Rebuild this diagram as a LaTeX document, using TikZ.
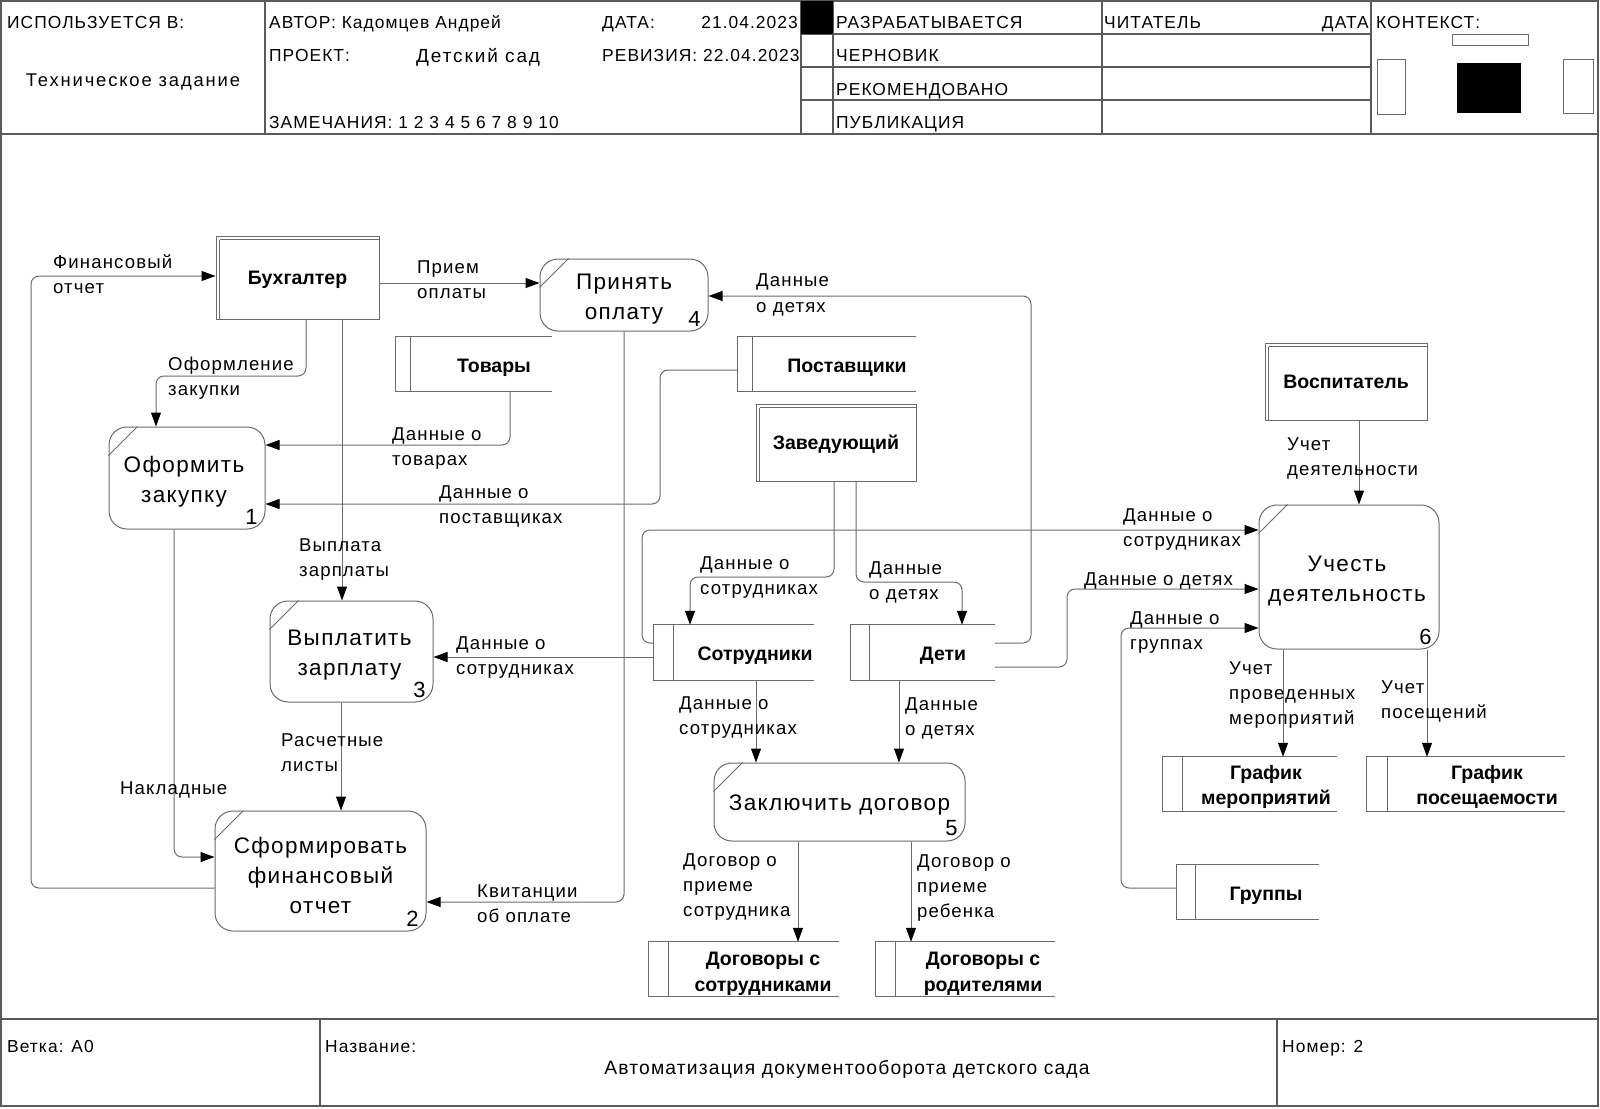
\documentclass[tikz,border=0pt]{standalone}
\usepackage{fontspec}
\setmainfont{Liberation Sans}
\newfontfamily\hdrfont[LetterSpace=10]{Liberation Sans}
\newfontfamily\lblfont[LetterSpace=6]{Liberation Sans}
\usetikzlibrary{arrows.meta,calc}
\definecolor{linegray}{HTML}{6A6A6A}
\definecolor{framegray}{HTML}{5A5A5A}

\begin{document}
\begin{tikzpicture}[x=1pt,y=-1pt,
  frame/.style={draw=framegray, line width=1.2pt},
  box/.style={draw=linegray, line width=1pt},
  proc/.style={draw=linegray, line width=1pt, rounded corners=18pt, inner sep=0pt},
  ptxt/.style={inner sep=0pt, align=center, font=\lblfont\fontsize{22.5}{30}\selectfont},
  ent/.style={draw=linegray, line width=1pt, inner sep=0pt, text height=14pt, text depth=0pt,
    font=\bfseries\fontsize{19.5}{25}\selectfont},
  store/.style={inner sep=0pt, minimum height=54},
  stxt/.style={inner sep=0pt, align=center, font=\bfseries\fontsize{19.5}{25.5}\selectfont},
  numtxt/.style={inner sep=0pt, font=\lblfont\fontsize{22}{26}\selectfont},
  flow/.style={draw=linegray, line width=1pt, rounded corners=8pt,
    -{Triangle[length=14pt,width=10pt,color=black]}},
  lbl/.style={anchor=north west, inner sep=0pt, align=left,
    font=\lblfont\fontsize{18.6}{25}\selectfont, execute at begin node=\strut},
  hdr/.style={anchor=base west, inner sep=0pt, font=\lblfont\fontsize{17.4}{20}\selectfont},
  big/.style={anchor=base west, inner sep=0pt, font=\hdrfont\fontsize{19}{24}\selectfont},
]
\useasboundingbox (0,0) rectangle (1600,1108);

% ---------- sheet frame ----------
\draw[frame] (1,1) rectangle (1598,1106);
\draw[frame] (1,134) -- (1598,134);
\draw[frame] (265,1) -- (265,134);
\draw[frame] (801,1) -- (801,134);
\draw[frame] (833,1) -- (833,134);
\draw[frame] (1102,1) -- (1102,134);
\draw[frame] (1371,1) -- (1371,134);
\draw[frame] (801,34) -- (1371,34);
\draw[frame] (801,67) -- (1371,67);
\draw[frame] (801,100) -- (1371,100);
\fill[black] (801,1) rectangle (833,34);

% context thumbnail
\draw[box] (1452,35) rectangle (1528,46);
\draw[box] (1377,60) rectangle (1405,114);
\fill[black] (1457,63) rectangle (1521,113);
\draw[box] (1563,60) rectangle (1593,113);

% footer
\draw[frame] (1,1019) -- (1598,1019);
\draw[frame] (320,1019) -- (320,1106);
\draw[frame] (1277,1019) -- (1277,1106);

% ---------- header texts ----------
\node[hdr] (h-used) at (7,29) {ИСПОЛЬЗУЕТСЯ В:};
\node[big, anchor=base, font=\hdrfont\fontsize{18.4}{24}\selectfont] (h-doc) at (133,86) {Техническое задание};
\node[hdr] (h-author) at (269,29) {АВТОР: Кадомцев Андрей};
\node[hdr] (h-date) at (602,29) {ДАТА:};
\node[hdr, anchor=base east] (h-dateval) at (798,29) {21.04.2023};
\node[hdr] (h-proj) at (269,62) {ПРОЕКТ:};
\node[big] (h-projval) at (416,63) {Детский сад};
\node[hdr] (h-rev) at (602,62) {РЕВИЗИЯ: 22.04.2023};
\node[hdr] (h-notes) at (269,128) {ЗАМЕЧАНИЯ: 1 2 3 4 5 6 7 8 9 10};
\node[hdr] (h-s1) at (836,29) {РАЗРАБАТЫВАЕТСЯ};
\node[hdr] (h-s2) at (836,62) {ЧЕРНОВИК};
\node[hdr] (h-s3) at (836,95) {РЕКОМЕНДОВАНО};
\node[hdr] (h-s4) at (836,128) {ПУБЛИКАЦИЯ};
\node[hdr] (h-reader) at (1104,29) {ЧИТАТЕЛЬ};
\node[hdr, anchor=base east] (h-rdate) at (1369,29) {ДАТА};
\node[hdr] (h-ctx) at (1376,29) {КОНТЕКСТ:};

% ---------- footer texts ----------
\node[hdr] (f-branch) at (7,1052) {Ветка: А0};
\node[hdr] (f-name) at (325,1052) {Название:};
\node[anchor=base, inner sep=0pt, font=\lblfont\fontsize{19.3}{25}\selectfont] (f-title) at (847,1074) {Автоматизация документооборота детского сада};
\node[hdr] (f-num) at (1282,1052) {Номер: 2};

% ---------- external entities ----------
\node[ent, minimum width=163, minimum height=83] (acct) at (297.5,277.5) {Бухгалтер};
\node[ent, minimum width=160, minimum height=77] (head) at (836,442.5) {Заведующий};
\node[ent, minimum width=162, minimum height=77] (vosp) at (1346,381.5) {Воспитатель};
\foreach \e in {acct,head,vosp}{
  \draw[box] ([xshift=4,yshift=-4]\e.north west) -- ([yshift=-4]\e.north east);
  \draw[box] ([xshift=4,yshift=-4]\e.north west) -- ([xshift=4]\e.south west);
}

% ---------- processes ----------
\node[proc, minimum width=156, minimum height=102] (p1) at (187,478) {};
\node[proc, minimum width=211, minimum height=120] (p2) at (320.5,871) {};
\node[proc, minimum width=163, minimum height=101] (p3) at (351.5,651.5) {};
\node[proc, minimum width=168, minimum height=72] (p4) at (624,295) {};
\node[proc, minimum width=251, minimum height=78] (p5) at (839.5,802) {};
\node[proc, minimum width=180, minimum height=144] (p6) at (1349,577) {};
\node[ptxt] (p1-t) at ([xshift=-3,yshift=-4]p1.center) {Оформить\\закупку};
\node[ptxt] (p2-t) at ([yshift=-4]p2.center) {Сформировать\\финансовый\\отчет};
\node[ptxt] (p3-t) at ([xshift=-2,yshift=-4]p3.center) {Выплатить\\зарплату};
\node[ptxt] (p4-t) at ([yshift=-4]p4.center) {Принять\\оплату};
\node[ptxt] (p5-t) at ([yshift=-3]p5.center) {Заключить договор};
\node[ptxt] (p6-t) at ([xshift=-2,yshift=-4]p6.center) {Учесть\\деятельность};
\foreach \p/\n in {p1/1,p2/2,p3/3,p4/4,p5/5,p6/6}{
  \draw[box] ([xshift=29]\p.north west) -- ([yshift=-29]\p.north west);
  \node[numtxt] (\p-num) at ([xshift=-14,yshift=13]\p.south east) {\n};
}

% ---------- data stores ----------
\node[store, minimum width=156] (goods) at (474,364) {};
\node[store, minimum width=178] (sup) at (827,364) {};
\node[store, minimum width=160, minimum height=55] (staff) at (734,652.5) {};
\node[store, minimum width=144, minimum height=55] (kids) at (923,652.5) {};
\node[store, minimum width=142] (groups) at (1248,892) {};
\node[store, minimum width=174] (gm) at (1250,784) {};
\node[store, minimum width=198] (gp) at (1466,784) {};
\node[store, minimum width=190] (ds) at (744,969) {};
\node[store, minimum width=179] (dp) at (965.5,969) {};
\foreach \s/\d in {goods/15,sup/15,staff/20,kids/19,groups/19,gm/20,gp/21,ds/20,dp/20}{
  \draw[box] (\s.north east) -- (\s.north west) -- (\s.south west) -- (\s.south east);
  \draw[box] ([xshift=\d]\s.north west) -- ([xshift=\d]\s.south west);
}
\node[stxt] (goods-t) at (494,368) {Товары};
\node[stxt] (sup-t) at (847,368) {Поставщики};
\node[stxt] (staff-t) at (755,656) {Сотрудники};
\node[stxt] (kids-t) at (943,656) {Дети};
\node[stxt] (groups-t) at (1266,896) {Группы};
\node[stxt] (gm-t) at (1266,787) {График\\мероприятий};
\node[stxt] (gp-t) at (1487,787) {График\\посещаемости};
\node[stxt] (ds-t) at (763,974) {Договоры с\\сотрудниками};
\node[stxt] (dp-t) at (983,974) {Договоры с\\родителями};

% ---------- data flows ----------
\draw[flow] (p2.west |- 0,888) -| (31,276) -- (acct.west |- 0,276);
\draw[flow] (acct.east |- 0,283) -- (p4.west |- 0,283);
\draw[flow] (acct.south -| 306,0) |- (156,376) -- (p1.north -| 156,0);
\draw[flow] (acct.south -| 342,0) -- (p3.north -| 342,0);
\draw[flow] (goods.south -| 510,0) |- (p1.east |- 0,445);
\draw[flow] (sup.west |- 0,370) -| (660,504) -- (p1.east |- 0,504);
\draw[flow] (kids.east |- 0,643) -| (1031,296) -- (p4.east |- 0,296);
\draw[flow] (p4.south -| 624,0) |- (p2.east |- 0,902);
\draw[flow] (p1.south -| 174,0) |- (p2.west |- 0,857);
\draw[flow] (p3.south -| 341,0) -- (p2.north -| 341,0);
\draw[flow] (staff.west |- 0,657) -- (p3.east |- 0,657);
\draw[flow] (head.south -| 834,0) |- (690,577) -- (staff.north -| 690,0);
\draw[flow] (head.south -| 856,0) |- (962,582) -- (kids.north -| 962,0);
\draw[flow] (staff.west |- 0,643) -| (642,530) -- (p6.west |- 0,530);
\draw[flow] (kids.east |- 0,667) -| (1067,589) -- (p6.west |- 0,589);
\draw[flow] (groups.west |- 0,888) -| (1121,628) -- (p6.west |- 0,628);
\draw[flow] (vosp.south -| 1359,0) -- (p6.north -| 1359,0);
\draw[flow] (p6.south -| 1283,0) -- (gm.north -| 1283,0);
\draw[flow] (p6.south -| 1427,0) -- (gp.north -| 1427,0);
\draw[flow] (staff.south -| 756,0) -- (p5.north -| 756,0);
\draw[flow] (kids.south -| 899,0) -- (p5.north -| 899,0);
\draw[flow] (p5.south -| 798,0) -- (ds.north -| 798,0);
\draw[flow] (p5.south -| 911,0) -- (dp.north -| 911,0);

% ---------- flow labels ----------
\node[lbl] (l-fin) at (53,254) {Финансовый\\отчет};
\node[lbl] (l-pay) at (417,261) {Прием\\оплаты};
\node[lbl] (l-buy) at (168,357) {Оформление\\закупки};
\node[lbl] (l-goods) at (392,427) {Данные о\\товарах};
\node[lbl] (l-sup) at (439,485) {Данные о\\поставщиках};
\node[lbl] (l-kids1) at (756,274) {Данные\\о детях};
\node[lbl] (l-sal) at (299,538) {Выплата\\зарплаты};
\node[lbl] (l-staff1) at (456,636) {Данные о\\сотрудниках};
\node[lbl] (l-sheets) at (281,733) {Расчетные\\листы};
\node[lbl] (l-inv) at (120,777) {Накладные};
\node[lbl] (l-rcpt) at (477,884) {Квитанции\\об оплате};
\node[lbl] (l-staff2) at (700,556) {Данные о\\сотрудниках};
\node[lbl] (l-kids2) at (869,561) {Данные\\о детях};
\node[lbl] (l-staff3) at (1123,508) {Данные о\\сотрудниках};
\node[lbl] (l-kids3) at (1084,568) {Данные о детях};
\node[lbl] (l-grp) at (1130,611) {Данные о\\группах};
\node[lbl] (l-act) at (1287,437) {Учет\\деятельности};
\node[lbl] (l-ev) at (1229,661) {Учет\\проведенных\\мероприятий};
\node[lbl] (l-att) at (1381,680) {Учет\\посещений};
\node[lbl] (l-staff4) at (679,696) {Данные о\\сотрудниках};
\node[lbl] (l-kids4) at (905,697) {Данные\\о детях};
\node[lbl] (l-c1) at (683,853) {Договор о\\приеме\\сотрудника};
\node[lbl] (l-c2) at (917,854) {Договор о\\приеме\\ребенка};
\end{tikzpicture}
\end{document}
